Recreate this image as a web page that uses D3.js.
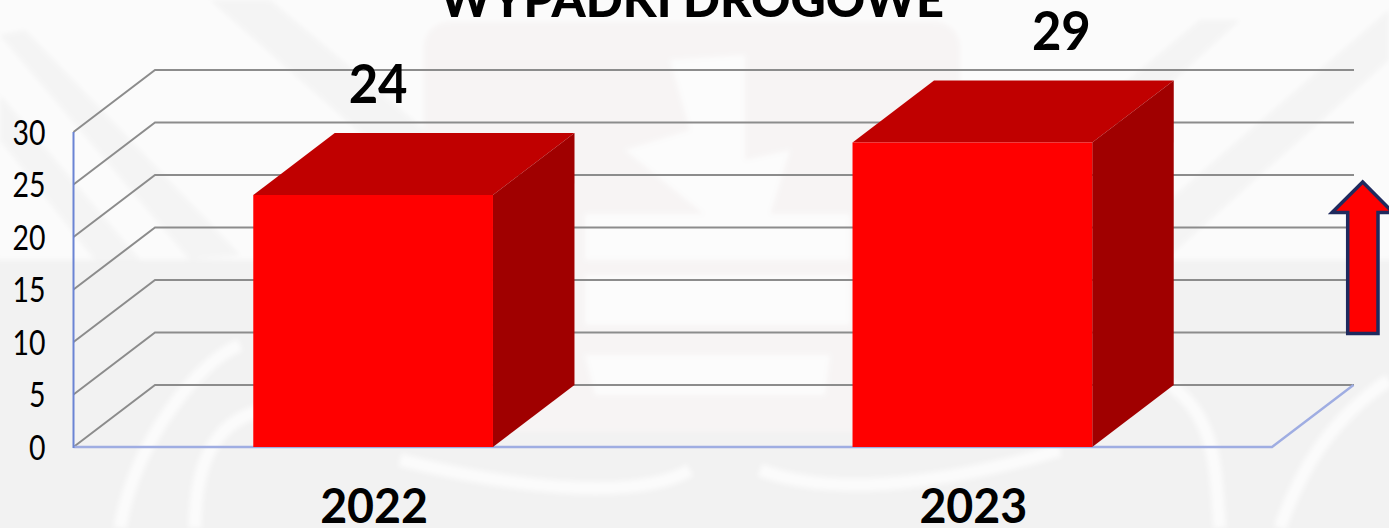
<!DOCTYPE html>
<html><head><meta charset="utf-8">
<script src="https://cdn.jsdelivr.net/npm/d3@7"></script>
<style>html,body{margin:0;padding:0;background:#f2f2f2;overflow:hidden}svg{display:block}</style>
</head><body><svg id="c" width="1389" height="528"></svg>
<script>
const title = "WYPADKI DROGOWE";
const categories = ["2022", "2023"];
const values = [24, 29];
const yTicks = [0, 5, 10, 15, 20, 25, 30];
const labelShift = [5, 89];

const W = 1389, H = 528;
const depthX = 81.5, depthY = -62;
const x = d3.scaleBand().domain(categories).range([73.5, 1272]).paddingInner(0.6).paddingOuter(0.3);
const y = d3.scaleLinear().domain([0, 30]).range([447, 132]);
const svg = d3.select("#c");
const line = d3.line();
const poly = pts => line(pts) + "Z";

// watermark background
const defs = svg.append("defs");
defs.append("filter").attr("id", "soft").append("feGaussianBlur").attr("stdDeviation", 2.5);
const bg = svg.append("g").attr("filter", "url(#soft)");
bg.append("rect").attr("x", -5).attr("y", -5).attr("width", W + 10).attr("height", H + 10).attr("fill", "#f2f2f2");
bg.append("rect").attr("x", -5).attr("y", -5).attr("width", W + 10).attr("height", 265).attr("fill", "#fbfbfb");
[
  [[0, 35], [25, 30], [240, 255], [190, 260]],
  [[0, 140], [0, 95], [140, 260], [95, 260]],
  [[210, 0], [270, 0], [425, 130], [425, 190]],
  [[1165, 260], [1389, 60], [1389, 10], [1100, 260]],
  [[1045, 150], [1200, 20], [1240, 20], [1075, 170]]
].forEach(p => bg.append("path").attr("d", poly(p)).attr("fill", "#f4f4f4"));
bg.append("rect").attr("x", 424).attr("y", 22).attr("width", 536).attr("height", 410).attr("rx", 25).attr("fill", "#f7f4f4");
[
  [[670, 60], [745, 55], [745, 160], [790, 150], [770, 215], [705, 215], [625, 150], [690, 130]],
  [[585, 214], [850, 214], [850, 260], [585, 260]],
  [[585, 275], [850, 275], [850, 325], [585, 325]],
  [[585, 355], [830, 355], [825, 395], [595, 395]]
].forEach(p => bg.append("path").attr("d", poly(p)).attr("fill", "#fcfcfc"));
[
  "M120 528 C135 440 200 360 240 345",
  "M195 528 C195 440 230 410 290 405",
  "M400 460 C520 490 640 500 690 470",
  "M760 470 C840 500 960 480 1060 450",
  "M1170 385 C1220 420 1215 480 1220 528",
  "M1280 528 C1300 470 1330 420 1389 380"
].forEach(d => bg.append("path").attr("d", d).attr("fill", "none").attr("stroke", "#fbfbfb").attr("stroke-width", 13));

// gridlines: side wall plus back wall
const grid = svg.append("g");
grid.selectAll("path").data(yTicks).join("path")
  .attr("fill", "none")
  .attr("stroke", "#8c8c8c")
  .attr("stroke-width", 2)
  .attr("d", v => line([[x.range()[0], y(v)], [x.range()[0] + depthX, y(v) + depthY], [x.range()[1] + depthX + 0.5, y(v) + depthY]]));

// axes
svg.append("path").attr("fill", "none").attr("stroke", "#9fade2").attr("stroke-width", 2.4)
  .attr("stroke-linejoin", "miter")
  .attr("d", line([[x.range()[0], y(0)], [x.range()[1], y(0)], [x.range()[1] + depthX, y(0) + depthY]]));
svg.append("line").attr("x1", x.range()[0]).attr("x2", x.range()[0]).attr("y1", y(30)).attr("y2", y(0) + 1)
  .attr("stroke", "#6b84d4").attr("stroke-width", 2);

// bars
const bars = svg.append("g").selectAll("g").data(categories.map((c, i) => ({ c, v: values[i], i }))).join("g");
const bw = x.bandwidth();
bars.append("path").attr("fill", "#c00000").attr("d", d => {
  const l = x(d.c), t = y(d.v);
  return poly([[l, t], [l + depthX, t + depthY], [l + bw + depthX, t + depthY], [l + bw, t]]);
});
bars.append("path").attr("fill", "#a00000").attr("d", d => {
  const r = x(d.c) + bw, t = y(d.v), b = y(0);
  return poly([[r, t], [r + depthX, t + depthY], [r + depthX, b + depthY], [r, b]]);
});
bars.append("rect").attr("fill", "#ff0000")
  .attr("x", d => x(d.c)).attr("y", d => y(d.v)).attr("width", bw).attr("height", d => y(0) - y(d.v));

// text
const txt = svg.append("g").attr("fill", "#000");
txt.selectAll(".tick").data(yTicks).join("text").attr("class", "tick")
  .attr("x", 45.5).attr("y", v => y(v) + 12.5).attr("text-anchor", "end")
  .attr("font-family", "Lato,sans-serif").attr("font-size", 35)
  .attr("textLength", v => String(v).length * 16.5).attr("lengthAdjust", "spacingAndGlyphs")
  .text(v => v);
txt.selectAll(".cat").data(categories).join("text").attr("class", "cat")
  .attr("x", c => x(c) + bw / 2 + 1).attr("y", 523).attr("text-anchor", "middle")
  .attr("font-family", "Lato,sans-serif").attr("font-weight", 700).attr("font-size", 48)
  .attr("textLength", 108).attr("lengthAdjust", "spacingAndGlyphs")
  .text(c => c);
txt.selectAll(".val").data(values).join("text").attr("class", "val")
  .attr("x", (v, i) => x(categories[i]) + bw / 2 + labelShift[i]).attr("y", v => y(v) - 92.5).attr("text-anchor", "middle")
  .attr("font-family", "Lato,sans-serif").attr("font-weight", 700).attr("font-size", 54)
  .attr("textLength", 59).attr("lengthAdjust", "spacingAndGlyphs")
  .text(v => v);
txt.append("text").attr("x", 692).attr("y", 17).attr("text-anchor", "middle")
  .attr("font-family", "Lato,sans-serif").attr("font-weight", 900).attr("font-size", 50)
  .attr("textLength", 504).attr("lengthAdjust", "spacingAndGlyphs")
  .text(title);

// up arrow annotation
svg.append("path").attr("fill", "#ff0000").attr("stroke", "#1f2a5e").attr("stroke-width", 3.5)
  .attr("d", poly([[1362.7, 182], [1393, 212.5], [1378, 212.5], [1378, 333.5], [1347.7, 333.5], [1347.7, 212.5], [1332, 212.5]]));
</script></body></html>
